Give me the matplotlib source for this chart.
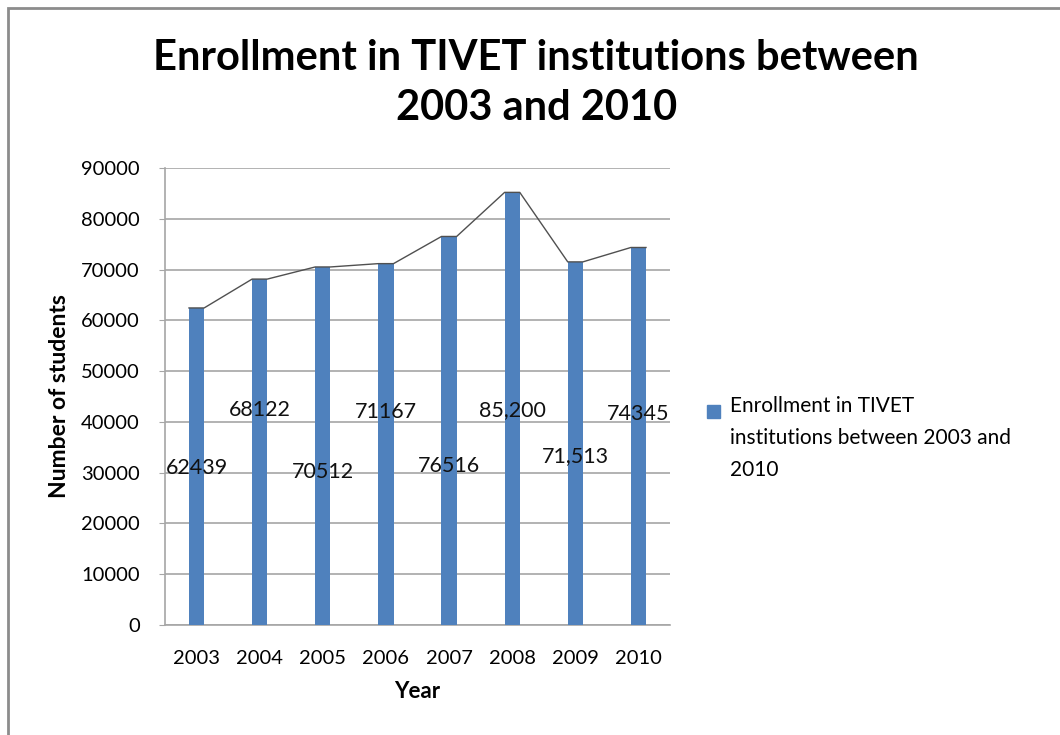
import matplotlib.pyplot as plt
from matplotlib.patches import Rectangle
import numpy as np

years = ["2003", "2004", "2005", "2006", "2007", "2008", "2009", "2010"]
enrollment = [62439, 68122, 70512, 71167, 76516, 85200, 71513, 74345]
label_text = ["62439", "68122", "70512", "71167", "76516", "85,200", "71,513", "74345"]
# labels sit at staggered heights inside the bars
label_y = [30900, 42300, 30100, 41900, 31300, 42300, 33300, 41500]
series_name = "Enrollment in TIVET\ninstitutions between 2003 and\n2010"

BAR = "#4F81BD"
GRID = "#A6A6A6"
plt.rcParams["font.family"] = ["Lato", "DejaVu Sans"]

fig = plt.figure(figsize=(10.6, 7.35), dpi=100)
ax = fig.add_axes([165 / 1060, 1 - 625 / 735, 505 / 1060, 457 / 735])

x = np.arange(len(years))
w = 0.24
ax.bar(x, enrollment, width=w, color=BAR, zorder=3)

# thin outline running across the bar tops
lx, ly = [], []
for xi, v in zip(x, enrollment):
    lx += [xi - w / 2, xi + w / 2]
    ly += [v, v]
ax.plot(lx, ly, color="#505050", lw=1, zorder=4)

for xi, t, yy in zip(x, label_text, label_y):
    ax.text(xi, yy, t, ha="center", va="center", fontsize=15.5, color="#111111", zorder=5)

ax.set_xlim(-0.5, len(years) - 0.5)
ax.set_ylim(0, 90000)
ax.set_yticks(range(0, 90001, 10000))
ax.set_yticklabels([str(v) for v in range(0, 90001, 10000)], fontsize=14.5)
ax.set_xticks(x)
ax.set_xticklabels(years, fontsize=14.5)
ax.tick_params(axis="x", length=0, pad=18)
ax.tick_params(axis="y", length=4, color=GRID, pad=14)
ax.yaxis.grid(True, color=GRID, lw=1.2, zorder=0)
for s in ["top", "right"]:
    ax.spines[s].set_visible(False)
for s in ["left", "bottom"]:
    ax.spines[s].set_color(GRID)
    ax.spines[s].set_linewidth(1.2)

ax.set_xlabel("Year", fontsize=16, fontweight="bold", labelpad=10)
ax.set_ylabel("Number of students", fontsize=16.5, fontweight="bold", labelpad=8)

fig.text(0.506, 1 - 58 / 735, "Enrollment in TIVET institutions between",
         ha="center", va="center", fontsize=30, fontweight="bold")
fig.text(0.506, 1 - 108 / 735, "2003 and 2010",
         ha="center", va="center", fontsize=30, fontweight="bold")

# legend: blue square key and wrapped series name
fig.patches.append(Rectangle((707 / 1060, 1 - 418 / 735), 13 / 1060, 13 / 735,
                             transform=fig.transFigure, color=BAR))
fig.text(730 / 1060, 1 - 396 / 735, series_name, ha="left", va="top",
         fontsize=15, linespacing=1.75)

# outer chart frame
fig.patches.append(Rectangle((8 / 1060, -0.1), 1.2, 1 - 8 / 735 + 0.1,
                             transform=fig.transFigure, fill=False,
                             edgecolor="#8C8C8C", lw=2))

fig.savefig("out.png", dpi=100)
